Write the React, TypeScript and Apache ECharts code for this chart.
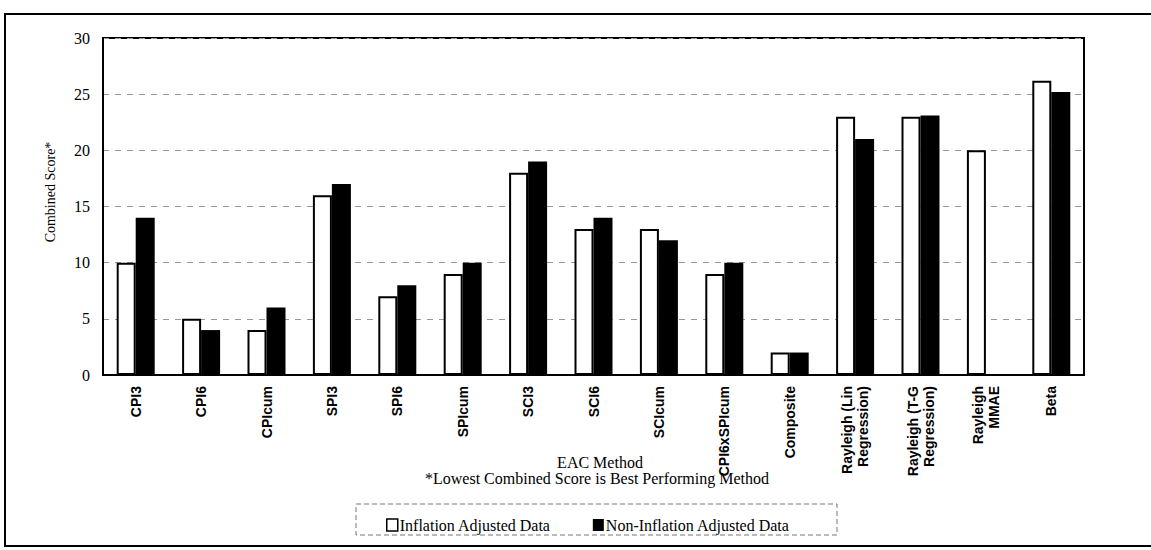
import React, { useEffect, useRef } from "react";
import * as echarts from "echarts";

const categories = [
  "CPI3", "CPI6", "CPIcum", "SPI3", "SPI6", "SPIcum", "SCI3", "SCI6", "SCIcum",
  "CPI6xSPIcum", "Composite", "Rayleigh (Lin\nRegression)", "Rayleigh (T-G\nRegression)",
  "Rayleigh\nMMAE", "Beta",
];
const inflationAdjusted = [10, 5, 4, 16, 7, 9, 18, 13, 13, 9, 2, 23, 23, 20, 26.2];
const nonInflationAdjusted = [14, 4, 6, 17, 8, 10, 19, 14, 12, 10, 2, 21, 23.1, 0, 25.2];
const yTicks = [0, 5, 10, 15, 20, 25, 30];
const seriesNames = ["Inflation Adjusted Data", "Non-Inflation Adjusted Data"];

const SERIF = "'Liberation Serif', 'DejaVu Serif', serif";
const SANS = "'Liberation Sans', Arial, sans-serif";

export default function App() {
  const ref = useRef<HTMLDivElement>(null);
  useEffect(() => {
    const chart = echarts.init(ref.current!, null, { renderer: "svg" });
    chart.setOption({
      animation: false,
      backgroundColor: "#fff",
      grid: { left: 103, right: 67, top: 38, bottom: 175, show: true, borderColor: "#000", borderWidth: 2, backgroundColor: "transparent" },
      xAxis: {
        type: "category",
        data: categories,
        axisLine: { lineStyle: { color: "#000", width: 2 } },
        axisTick: { show: false },
        axisLabel: {
          rotate: 90,
          interval: 0,
          fontFamily: SANS,
          fontWeight: "bold",
          fontSize: 14,
          color: "#000",
          margin: 11,
          lineHeight: 16,
          align: "right",
          verticalAlign: "middle",
        },
      },
      yAxis: {
        type: "value",
        min: yTicks[0],
        max: yTicks[yTicks.length - 1],
        interval: 5,
        axisLine: { show: true, lineStyle: { color: "#000", width: 2 } },
        axisTick: { show: false },
        axisLabel: { fontFamily: SERIF, fontSize: 16, color: "#000", margin: 13 },
        splitLine: { lineStyle: { color: "#999", type: [6, 6], width: 1 } },
      },
      legend: {
        left: 381,
        top: 512,
        itemWidth: 11,
        itemHeight: 12,
        itemGap: 42,
        textStyle: { fontFamily: SERIF, fontSize: 16, color: "#000", padding: [0, 0, 0, -3] },
        data: [
          { name: seriesNames[0], icon: "rect", itemStyle: { color: "#fff", borderColor: "#000", borderWidth: 1.5 } },
          { name: seriesNames[1], icon: "rect", itemStyle: { color: "#000", borderWidth: 0 } },
        ],
      },
      series: [
        {
          name: seriesNames[0],
          type: "bar",
          data: inflationAdjusted,
          barWidth: 19,
          barGap: "0%",
          itemStyle: { color: "#fff", borderColor: "#000", borderWidth: 2 },
        },
        {
          name: seriesNames[1],
          type: "bar",
          data: nonInflationAdjusted,
          barWidth: 19,
          barGap: "0%",
          itemStyle: { color: "#000", borderColor: "#000", borderWidth: 0 },
        },
      ],
      graphic: [
        { type: "rect", shape: { x: 5, y: 14, width: 1160, height: 532 }, style: { fill: "none", stroke: "#000", lineWidth: 2 }, silent: true },
        { type: "rect", shape: { x: 356, y: 504, width: 481, height: 31 }, style: { fill: "none", stroke: "#777", lineWidth: 1, lineDash: [5, 3] }, silent: true },
        { type: "text", x: 50, y: 192, rotation: Math.PI / 2, style: { text: "Combined Score*", fontFamily: SERIF, fontSize: 14, fill: "#000", align: "center", verticalAlign: "middle" } },
        { type: "text", x: 600, y: 462, style: { text: "EAC Method", fontFamily: SERIF, fontSize: 16, fill: "#000", align: "center", verticalAlign: "middle" } },
        { type: "text", x: 597, y: 478, style: { text: "*Lowest Combined Score is Best Performing Method", fontFamily: SERIF, fontSize: 16, fill: "#000", align: "center", verticalAlign: "middle" } },
      ],
    });
    return () => chart.dispose();
  }, []);
  return <div ref={ref} style={{ width: 1151, height: 550, position: "absolute", left: 0, top: 0 }} />;
}
